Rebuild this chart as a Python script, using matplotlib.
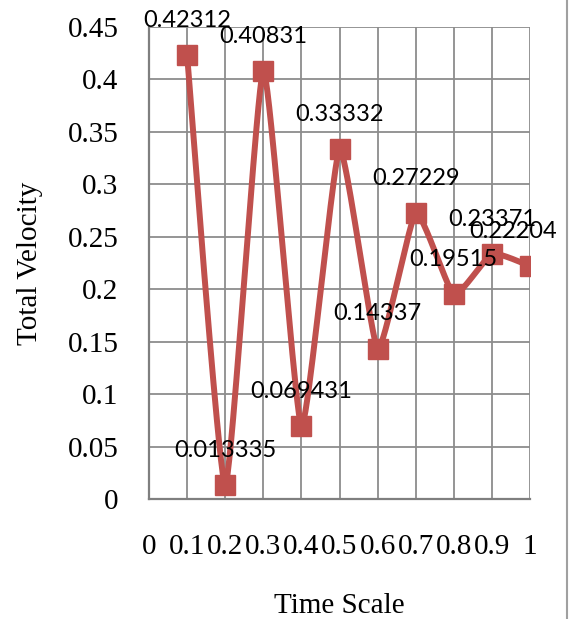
import matplotlib
matplotlib.use("Agg")
import matplotlib.pyplot as plt
import numpy as np
from matplotlib.ticker import FuncFormatter, MultipleLocator
from matplotlib.lines import Line2D

time_scale = [0.1, 0.2, 0.3, 0.4, 0.5, 0.6, 0.7, 0.8, 0.9, 1.0]
total_velocity = [0.42312, 0.013335, 0.40831, 0.069431, 0.33332,
                  0.14337, 0.27229, 0.19515, 0.23371, 0.22204]
value_labels = ["0.42312", "0.013335", "0.40831", "0.069431", "0.33332",
                "0.14337", "0.27229", "0.19515", "0.23371", "0.22204"]

red = "#C0504D"
grid_gray = "#8C8C8C"


def smooth(xs, ys, k=0.08, n=40):
    # cubic bezier segments, control points pulled toward neighbours by k
    p = np.column_stack([xs, ys])
    out = []
    for i in range(len(p) - 1):
        p0 = p[i - 1] if i > 0 else p[i]
        p1, p2 = p[i], p[i + 1]
        p3 = p[i + 2] if i + 2 < len(p) else p[i + 1]
        c1 = p1 + (p2 - p0) * k
        c2 = p2 - (p3 - p1) * k
        t = np.linspace(0, 1, n)[:, None]
        seg = ((1 - t) ** 3 * p1 + 3 * (1 - t) ** 2 * t * c1
               + 3 * (1 - t) * t ** 2 * c2 + t ** 3 * p2)
        out.append(seg if i == 0 else seg[1:])
    out = np.vstack(out)
    return out[:, 0], out[:, 1]


fig = plt.figure(figsize=(5.69, 6.19), dpi=100)
ax = fig.add_axes([149 / 569, 1 - 499 / 619, 381 / 569, 472 / 619])

sx, sy = smooth(time_scale, total_velocity)
ax.plot(sx, sy, color=red, lw=4.3, solid_capstyle="round",
        solid_joinstyle="round", zorder=3)
ax.plot(time_scale, total_velocity, ls="none", marker="s", ms=14.5,
        color=red, zorder=4)

for i, (x, y, s) in enumerate(zip(time_scale, total_velocity, value_labels)):
    # last label is nudged left so it stays inside the chart
    dx = -12 if i == len(value_labels) - 1 else 0
    ax.annotate(s, (x, y), xytext=(dx, 25), textcoords="offset points",
                ha="center", va="center", fontsize=17, family="Lato",
                color="black", zorder=5, annotation_clip=False)

ax.set_xlim(0, 1)
ax.set_ylim(0, 0.45)
ax.xaxis.set_major_locator(MultipleLocator(0.1))
ax.yaxis.set_major_locator(MultipleLocator(0.05))
fmt = FuncFormatter(lambda v, p: "%g" % round(v, 4))
ax.xaxis.set_major_formatter(fmt)
ax.yaxis.set_major_formatter(fmt)
ax.grid(True, color=grid_gray, lw=1.3)
ax.set_axisbelow(True)
for side in ["top", "right"]:
    ax.spines[side].set_visible(False)
for side in ["left", "bottom"]:
    ax.spines[side].set_color("#7F7F7F")
    ax.spines[side].set_linewidth(1.6)

ax.tick_params(length=0, labelsize=21)
ax.tick_params(axis="y", pad=22)
ax.tick_params(axis="x", pad=25)
for lab in ax.get_xticklabels() + ax.get_yticklabels():
    lab.set_family("Liberation Serif")

ax.set_xlabel("Time Scale", family="Liberation Serif", fontsize=21)
ax.set_ylabel("Total Velocity", family="Liberation Serif", fontsize=21)
ax.xaxis.set_label_coords(0.5, -0.226)
ax.xaxis.label.set_va("center")
ax.yaxis.set_label_coords(-0.312, 0.5)
ax.yaxis.label.set_va("center")

fig.add_artist(Line2D([567 / 569, 567 / 569], [0, 1], color="#A0A0A0",
                      lw=1.5, transform=fig.transFigure))

fig.savefig("out.png", dpi=100)
